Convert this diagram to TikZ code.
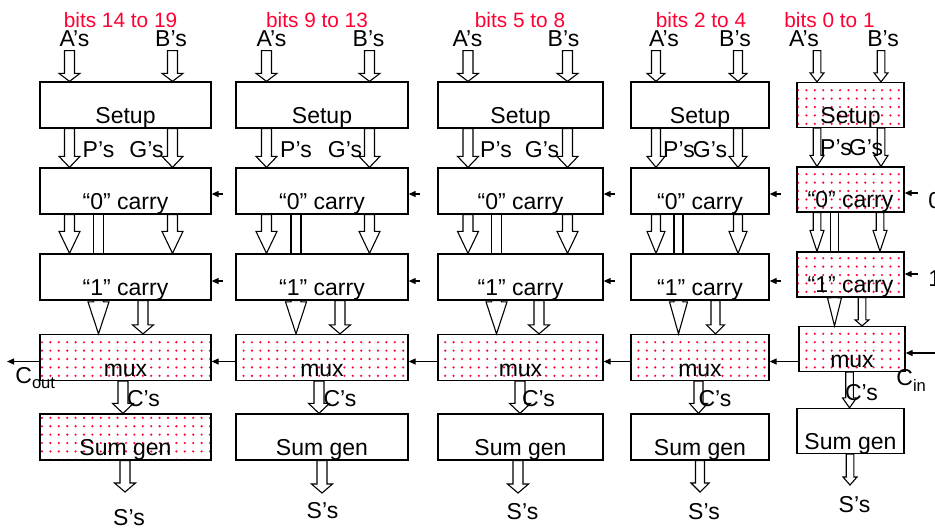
\documentclass[tikz,border=0pt]{standalone}
\usepackage{fontspec}
\setmainfont{Liberation Sans}
\usepackage{tikz}
\usetikzlibrary{arrows.meta,patterns.meta,calc}

\definecolor{dotred}{HTML}{FF0033}
\newcommand{\stagefont}{\fontsize{11.5}{13}\selectfont}
\newcommand{\bitsfont}{\fontsize{10.4}{12}\selectfont}
\newcommand{\subfont}{\fontsize{8.3}{9}\selectfont}

% hollow block arrow at x=#1, from #2 down to #3, head length #4
\newcommand{\fatarrow}[4]{%
  \draw[blockarrow] let \p1=(#1,0 |- #2), \p2=(#1,0 |- #3) in
    (\x1-\shaftw,\y1) -- (\x1-\shaftw,\y2+#4) -- (\x1-\headw,\y2+#4) -- (\x2,\y2)
    -- (\x1+\headw,\y2+#4) -- (\x1+\shaftw,\y2+#4) -- (\x1+\shaftw,\y1) -- cycle;}
% hollow bar without head
\newcommand{\fatbar}[3]{%
  \draw[blockarrow] let \p1=(#1,0 |- #2), \p2=(#1,0 |- #3) in
    (\x1-\shaftw,\y1) rectangle (\x1+\shaftw,\y2);}

\begin{document}
\begin{tikzpicture}[x=0.5pt, y=-0.5pt,
  stage/.style={draw, line width=0.65pt, fill=white, inner sep=0pt, minimum width=#1,
    text height=20.75pt, text depth=2.25pt, font=\stagefont},
  redspots/.style={preaction={fill=white}, pattern={Dots[distance=4.2pt, radius=0.6pt]}, pattern color=dotred},
  blockarrow/.style={draw, fill=white, line width=0.55pt},
  carry/.style={-{Triangle[length=3.5pt, width=3pt]}, line width=0.6pt},
  lbl/.style={anchor=base, inner sep=2pt, font=\stagefont},
  bits/.style={anchor=base, inner sep=0pt, text=dotred, font=\bitsfont}]
\path[use as bounding box] (0,0) rectangle (935,527);

% bits 14 to 19
\node[stage=85.5pt] (setupA) at (125.5,105) {Setup};
\node[stage=85.5pt] (zeroA) at (125.5,191) {“0” carry};
\node[stage=85.5pt] (oneA) at (125.5,277) {“1” carry};
\node[stage=85.5pt, redspots] (muxA) at (125.5,357.5) {mux};
\node[stage=85.5pt, redspots] (sumA) at (125.5,437) {Sum gen};
\node[bits] (bitsA) at (120.5,27) {bits 14 to 19};
\node[lbl] (aA) at (74.5,46) {A’s};
\node[lbl] (bA) at (171,46) {B’s};
\coordinate (sA) at (125,492);
\def\shaftw{2.5pt}\def\headw{5.25pt}
\fatarrow{69.5}{aA.south}{setupA.north}{4pt}
\fatarrow{172.5}{bA.south}{setupA.north}{4pt}
\fatarrow{69.5}{setupA.south}{zeroA.north}{5.5pt}
\fatarrow{172.5}{setupA.south}{zeroA.north}{5.5pt}
\fatarrow{69.5}{zeroA.south}{oneA.north}{11pt}
\fatbar{98.5}{zeroA.south}{oneA.north}
\fatarrow{172.5}{zeroA.south}{oneA.north}{11pt}
\fatarrow{98.5}{oneA.south}{muxA.north}{16pt}
\fatarrow{143}{oneA.south}{muxA.north}{4.5pt}
\fatarrow{123}{muxA.south}{sumA.north}{5pt}
\fatarrow{125}{sumA.south}{sA}{4.5pt}
\node[lbl] at (98.5,157) {P’s};
\node[lbl] at (146.5,157) {G’s};
\node[lbl] at (143.5,406) {C’s};
\node[lbl] at (129,525) {S’s};

% bits 9 to 13
\node[stage=86pt] (setupB) at (322,105) {Setup};
\node[stage=86pt] (zeroB) at (322,191) {“0” carry};
\node[stage=86pt] (oneB) at (322,277) {“1” carry};
\node[stage=86pt, redspots] (muxB) at (322,357.5) {mux};
\node[stage=86pt] (sumB) at (322,437) {Sum gen};
\node[bits] (bitsB) at (317,27) {bits 9 to 13};
\node[lbl] (aB) at (271.5,46) {A’s};
\node[lbl] (bB) at (368.5,46) {B’s};
\coordinate (sB) at (322,493);
\fatarrow{266.5}{aB.south}{setupB.north}{4pt}
\fatarrow{369.5}{bB.south}{setupB.north}{4pt}
\fatarrow{266.5}{setupB.south}{zeroB.north}{5.5pt}
\fatarrow{369.5}{setupB.south}{zeroB.north}{5.5pt}
\fatarrow{266.5}{zeroB.south}{oneB.north}{11pt}
\fatbar{296}{zeroB.south}{oneB.north}
\fatarrow{369.5}{zeroB.south}{oneB.north}{11pt}
\fatarrow{296}{oneB.south}{muxB.north}{16pt}
\fatarrow{340}{oneB.south}{muxB.north}{4.5pt}
\fatarrow{319}{muxB.south}{sumB.north}{5pt}
\fatarrow{322}{sumB.south}{sB}{4.5pt}
\node[lbl] at (296,157) {P’s};
\node[lbl] at (345,157) {G’s};
\node[lbl] at (340,406) {C’s};
\node[lbl] at (322.5,518) {S’s};

% bits 5 to 8
\node[stage=82.5pt] (setupC) at (520.5,105) {Setup};
\node[stage=82.5pt] (zeroC) at (520.5,191) {“0” carry};
\node[stage=82.5pt] (oneC) at (520.5,277) {“1” carry};
\node[stage=82.5pt, redspots] (muxC) at (520.5,357.5) {mux};
\node[stage=82.5pt] (sumC) at (520.5,437) {Sum gen};
\node[bits] (bitsC) at (520,27) {bits 5 to 8};
\node[lbl] (aC) at (467.5,46) {A’s};
\node[lbl] (bC) at (563.5,46) {B’s};
\coordinate (sC) at (518,493);
\fatarrow{468}{aC.south}{setupC.north}{4pt}
\fatarrow{567.5}{bC.south}{setupC.north}{4pt}
\fatarrow{468}{setupC.south}{zeroC.north}{5.5pt}
\fatarrow{567.5}{setupC.south}{zeroC.north}{5.5pt}
\fatarrow{468}{zeroC.south}{oneC.north}{11pt}
\fatbar{496.5}{zeroC.south}{oneC.north}
\fatarrow{567.5}{zeroC.south}{oneC.north}{11pt}
\fatarrow{496.5}{oneC.south}{muxC.north}{16pt}
\fatarrow{539}{oneC.south}{muxC.north}{4.5pt}
\fatarrow{520}{muxC.south}{sumC.north}{5pt}
\fatarrow{518}{sumC.south}{sC}{4.5pt}
\node[lbl] at (496,157) {P’s};
\node[lbl] at (542,157) {G’s};
\node[lbl] at (538.5,406) {C’s};
\node[lbl] at (522.5,519) {S’s};

% bits 2 to 4
\node[stage=69pt] (setupD) at (700,105) {Setup};
\node[stage=69pt] (zeroD) at (700,191) {“0” carry};
\node[stage=69pt] (oneD) at (700,277) {“1” carry};
\node[stage=69pt, redspots] (muxD) at (700,357.5) {mux};
\node[stage=69pt] (sumD) at (700,437) {Sum gen};
\node[bits] (bitsD) at (701,27) {bits 2 to 4};
\node[lbl] (aD) at (664,46) {A’s};
\node[lbl] (bD) at (735,46) {B’s};
\coordinate (sD) at (700,492);
\def\shaftw{2.25pt}\def\headw{4.5pt}
\fatarrow{656}{aD.south}{setupD.north}{4pt}
\fatarrow{738}{bD.south}{setupD.north}{4pt}
\fatarrow{656}{setupD.south}{zeroD.north}{5.5pt}
\fatarrow{738}{setupD.south}{zeroD.north}{5.5pt}
\fatarrow{656}{zeroD.south}{oneD.north}{11pt}
\fatbar{678.5}{zeroD.south}{oneD.north}
\fatarrow{738}{zeroD.south}{oneD.north}{11pt}
\fatarrow{678.5}{oneD.south}{muxD.north}{16pt}
\fatarrow{715.5}{oneD.south}{muxD.north}{4.5pt}
\fatarrow{698.5}{muxD.south}{sumD.north}{5pt}
\fatarrow{700}{sumD.south}{sD}{4.5pt}
\node[lbl] at (679,157) {P’s};
\node[lbl] at (710,157) {G’s};
\node[lbl] at (715,406) {C’s};
\node[lbl] at (704,519) {S’s};

% bits 0 to 1
\node[stage=53.5pt, text height=20.25pt, redspots] (setupE) at (850.5,105) {Setup};
\node[stage=53.5pt, text height=20.25pt, redspots] (zeroE) at (850.5,189.5) {“0” carry};
\node[stage=53.5pt, text height=20.25pt, redspots] (oneE) at (850.5,274.5) {“1” carry};
\node[stage=53pt, text height=20.25pt, redspots] (muxE) at (852,349) {mux};
\node[stage=53.5pt, text height=20.25pt] (sumE) at (850.5,431) {Sum gen};
\node[bits] (bitsE) at (829.5,27) {bits 0 to 1};
\node[lbl] (aE) at (804,46) {A’s};
\node[lbl] (bE) at (883,46) {B’s};
\coordinate (sE) at (850,485);
\def\shaftw{1.9pt}\def\headw{3.5pt}
\fatarrow{817}{aE.south}{setupE.north}{4.5pt}
\fatarrow{881}{bE.south}{setupE.north}{4.5pt}
\fatarrow{817}{setupE.south}{zeroE.north}{5.5pt}
\fatarrow{881}{setupE.south}{zeroE.north}{5.5pt}
\fatarrow{817}{zeroE.south}{oneE.north}{10.5pt}
\fatbar{834.5}{zeroE.south}{oneE.north}
\fatarrow{880}{zeroE.south}{oneE.north}{10.5pt}
\fatarrow{834.5}{oneE.south}{muxE.north}{14pt}
\fatarrow{862}{oneE.south}{muxE.north}{3pt}
\fatarrow{849.5}{muxE.south}{sumE.north}{5pt}
\fatarrow{850}{sumE.south}{sE}{4pt}
\node[lbl] at (836,155) {P’s};
\node[lbl] at (866,155) {G’s};
\node[lbl] at (861.5,400) {C’s};
\node[lbl] at (854.5,512) {S’s};

% carries between the columns
\foreach \n in {A,B,C,D}{
  \draw[carry] ([xshift=5.5pt,yshift=-1.5pt]zero\n.east) -- ([yshift=-1.5pt]zero\n.east);
  \draw[carry] ([xshift=5.5pt,yshift=-2pt]one\n.east) -- ([yshift=-2pt]one\n.east);
}
\foreach \n/\m in {A/B,B/C,C/D,D/E}
  \draw[carry] ($(mux\n.east -| mux\m.west)+(0,-2pt)$) -- ([yshift=-2pt]mux\n.east);

\coordinate (coutend) at (7,361.5);
\draw[carry] (muxA.west |- coutend) -- (coutend);
\node[anchor=base west, inner sep=0pt, font=\stagefont] (cout) at (15,383) {C\raisebox{-2.5pt}{\subfont out}};

\coordinate (cinstart) at (936,353);
\draw[carry] (cinstart) -- (cinstart -| muxE.east);
\node[anchor=base west, inner sep=0pt, font=\stagefont] (cin) at (896,385) {C\raisebox{-3pt}{\subfont in}};

\coordinate (zerostart) at (918,193);
\draw[carry] (zerostart) -- (zerostart -| zeroE.east);
\node[anchor=base west, inner sep=0pt, font=\stagefont] (inzero) at (928,208) {0};
\coordinate (onestart) at (918,274);
\draw[carry] (onestart) -- (onestart -| oneE.east);
\node[anchor=base west, inner sep=0pt, font=\stagefont] (inone) at (928,286) {1};
\end{tikzpicture}
\end{document}
